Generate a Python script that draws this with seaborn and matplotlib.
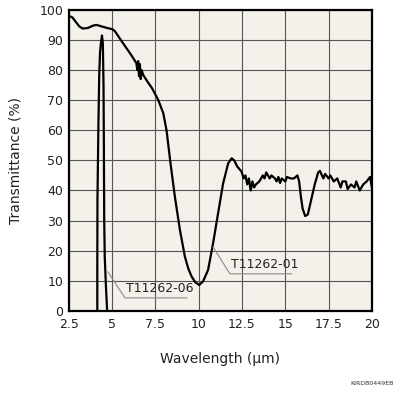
import numpy as np
import pandas as pd
import matplotlib
matplotlib.use("Agg")
import matplotlib.pyplot as plt
import seaborn as sns

# T11262-01 transmittance curve (wavelength in um, transmittance in %)
wl_01 = [2.5, 2.7, 2.9, 3.1, 3.3, 3.6, 3.9, 4.1, 4.4, 4.7, 5.0, 5.15, 5.5, 5.8,
         6.1, 6.4, 6.45, 6.5, 6.55, 6.6, 6.65, 6.7, 6.79, 7.0, 7.3, 7.66, 7.95,
         8.14, 8.37, 8.62, 8.91, 9.2, 9.4, 9.59, 9.8, 10.03, 10.25, 10.54,
         10.83, 11.12, 11.41, 11.7, 11.9, 12.05, 12.22, 12.47, 12.6,
         12.7, 12.8, 12.9, 13.0, 13.1, 13.2, 13.3, 13.5, 13.7, 13.8, 13.9,
         14.0, 14.1, 14.2, 14.4, 14.5, 14.6, 14.7, 14.8, 15.0, 15.1, 15.3,
         15.5, 15.7, 15.8, 15.9, 16.0, 16.15, 16.3, 16.5, 16.7, 16.9, 17.0,
         17.2, 17.3, 17.5, 17.6, 17.8, 18.0, 18.2, 18.3, 18.5, 18.6, 18.8,
         19.0, 19.1, 19.3, 19.5, 19.7, 19.9, 20.0]
tr_01 = [98, 97.5, 96, 94.5, 93.8, 94, 94.8, 95, 94.5, 94, 93.6, 93, 90, 87.5,
         85, 82.3, 80, 83, 78, 82, 77, 80, 78.4, 76.5, 74, 70.1, 65.7,
         60, 49, 38, 27, 18, 14, 11.4, 9.5, 8.6, 9.8, 13.6,
         22.5, 32.5, 42.4, 49, 50.7, 50, 48, 46.3, 44,
         45, 42, 44, 40, 43, 41, 42, 43, 45, 44, 46,
         45, 44, 45, 44, 43, 44.5, 42.5, 44, 43, 44.5, 44,
         44, 45, 43, 38, 34, 31.5, 32, 37, 42, 46, 46.5,
         44, 45.5, 44, 45, 43, 44, 41, 43, 43, 40.5, 42,
         41, 43, 40, 42, 43, 44.5, 41]

# T11262-06 narrow band
wl_06 = [4.14, 4.14, 4.15, 4.2, 4.25, 4.3, 4.35, 4.41, 4.46, 4.5, 4.52, 4.54,
         4.57, 4.64, 4.71]
tr_06 = [0, 15, 37, 60, 78, 86, 89, 91.5, 89, 75, 55, 30, 18, 8, 0]

x_ticks = [2.5, 5, 7.5, 10, 12.5, 15, 17.5, 20]
x_labels = ["2.5", "5", "7.5", "10", "12.5", "15", "17.5", "20"]
y_ticks = list(range(0, 101, 10))

sns.set_style("ticks")
plt.rcParams['font.family'] = ['DejaVu Sans']

fig = plt.figure(figsize=(3.96, 3.96), dpi=100)
ax = fig.add_axes([0.174, 0.215, 0.765, 0.76])
ax.set_facecolor("#f4f1ea")

df01 = pd.DataFrame({"wl": wl_01, "tr": tr_01})
df06 = pd.DataFrame({"wl": wl_06, "tr": tr_06})
sns.lineplot(data=df01, x="wl", y="tr", color="black", lw=1.6, ax=ax,
             sort=False, estimator=None)
sns.lineplot(data=df06, x="wl", y="tr", color="black", lw=1.6, ax=ax,
             sort=False, estimator=None)

ax.set_xlim(2.5, 20)
ax.set_ylim(0, 100)
ax.set_xticks(x_ticks)
ax.set_xticklabels(x_labels)
ax.set_yticks(y_ticks)
ax.tick_params(length=0, labelsize=9, colors="#222222", pad=4)
ax.tick_params(axis="x", pad=5)
ax.grid(True, color="#555555", lw=0.8)
ax.set_axisbelow(True)
for s in ax.spines.values():
    s.set_linewidth(1.6)
    s.set_color("black")

ax.set_xlabel("Wavelength (μm)", fontsize=10, labelpad=15, color="#222222")
ax.set_ylabel("Transmittance (%)", fontsize=10, labelpad=12, color="#222222")

# leader lines and labels
lead = "#8a8a8a"
ax.plot([4.75, 5.74, 9.32], [13, 4.3, 4.3], color=lead, lw=0.8)
ax.text(5.8, 5.2, "T11262-06", fontsize=9, color="#222222", va="bottom")
ax.plot([10.82, 11.8, 15.38], [21.3, 12.3, 12.3], color=lead, lw=0.8)
ax.text(11.85, 13.2, "T11262-01", fontsize=9, color="#222222", va="bottom")

fig.text(0.995, 0.025, "KIRDB0449EB", fontsize=4.5, ha="right", va="bottom",
         color="#333333")

fig.savefig("out.png", dpi=100)
